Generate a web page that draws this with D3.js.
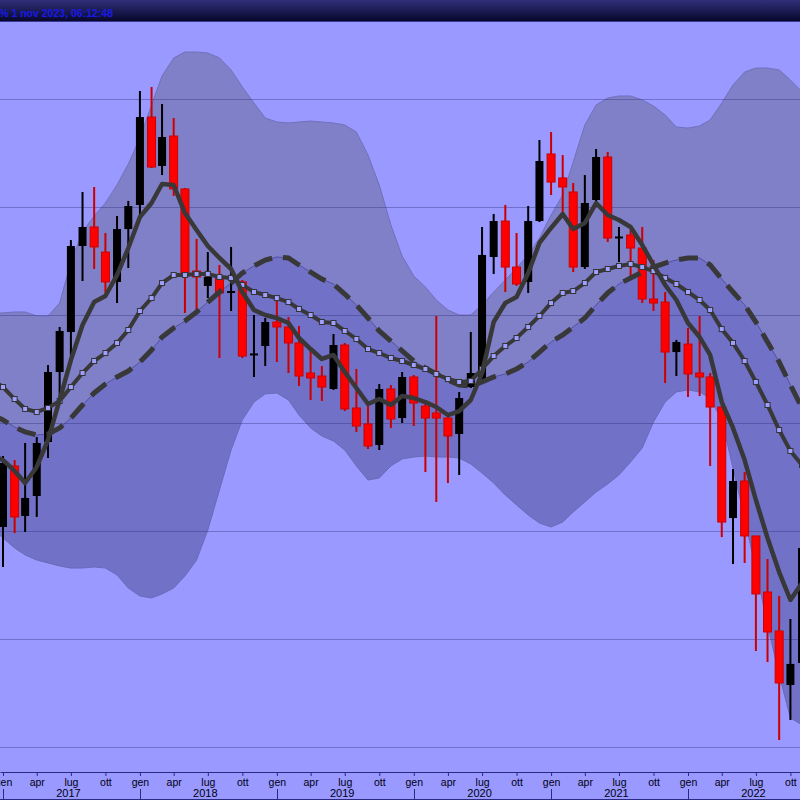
<!DOCTYPE html>
<html><head><meta charset="utf-8">
<script src="https://cdn.jsdelivr.net/npm/d3@7"></script>
<style>html,body{margin:0;padding:0;background:#9999ff;overflow:hidden}svg{display:block}</style>
</head><body>
<svg id="c" width="800" height="800"></svg>
<script>
// ---- data (monthly, first month = Dec 2016) ----
const firstMonth = [2016, 11];
const monthNames = ["gen","feb","mar","apr","mag","giu","lug","ago","set","ott","nov","dic"];
const years = [2017, 2018, 2019, 2020, 2021, 2022];
const headerText = "% 1 nov 2023, 06:12:48";
const gridValues = [40, 50, 60, 70, 80, 90, 100];

const open = [66.20,
 60.37, 66.02, 61.39, 63.24, 68.24, 74.72, 78.43, 86.39, 88.15, 85.83,
 83.06, 87.96, 90.19, 98.33, 93.80, 96.57, 91.67, 84.07, 82.69, 83.52,
 82.13, 83.06, 76.34, 77.13, 79.35, 78.89, 77.41, 74.63, 74.35, 73.15,
 77.22, 71.39, 69.91, 67.96, 73.15, 70.46, 74.26, 71.57, 70.93, 70.46,
 68.98, 73.33, 73.70, 85.37, 88.70, 84.44, 83.06, 88.70, 94.91, 92.69,
 91.39, 84.44, 90.65, 94.63, 87.18, 87.41, 86.20, 81.48, 81.20, 76.57,
 77.31, 74.63, 74.26, 71.48, 61.20, 64.63, 59.54, 54.35, 50.74, 45.74,
 47.78];
const high = [67.40,
 66.94, 66.57, 68.15, 68.70, 75.37, 78.89, 86.94, 91.39, 91.85, 87.59,
 89.17, 90.56, 100.74, 101.11, 99.54, 98.24, 91.76, 87.04, 85.83, 84.63,
 86.30, 83.24, 80.00, 79.72, 81.39, 79.81, 78.98, 76.76, 75.28, 78.24,
 77.41, 75.00, 71.67, 73.61, 73.52, 74.72, 74.44, 71.85, 79.91, 70.56,
 72.87, 78.43, 88.15, 89.35, 90.19, 87.59, 90.09, 96.20, 96.94, 94.81,
 92.22, 92.96, 95.37, 95.09, 88.15, 87.87, 88.15, 85.09, 82.13, 77.69,
 78.80, 79.91, 74.63, 71.67, 65.74, 65.46, 59.54, 57.41, 53.98, 51.85,
 59.17];
const low = [58.90,
 56.67, 59.81, 59.91, 61.30, 66.76, 72.31, 76.11, 83.15, 84.26, 82.04,
 81.11, 84.35, 89.26, 93.61, 92.96, 91.02, 80.19, 80.19, 81.57, 76.02,
 80.37, 76.02, 74.26, 75.28, 75.65, 74.63, 73.43, 72.13, 72.04, 73.06,
 71.11, 69.17, 67.59, 67.50, 69.54, 70.00, 69.72, 65.46, 62.69, 64.44,
 65.19, 73.24, 73.61, 83.80, 82.13, 82.69, 82.04, 88.61, 91.11, 89.44,
 83.98, 84.26, 90.46, 86.76, 84.91, 83.24, 81.11, 80.37, 73.70, 74.35,
 72.41, 72.50, 66.02, 59.44, 56.94, 57.04, 48.89, 47.87, 40.65, 42.50,
 47.59];
const close = [60.40,
 66.30, 61.30, 63.06, 68.15, 74.72, 78.52, 86.39, 88.15, 86.30, 83.06,
 87.96, 90.09, 98.33, 93.70, 96.48, 91.67, 83.89, 83.52, 83.52, 82.04,
 82.22, 76.20, 76.44, 79.35, 78.89, 77.41, 74.35, 74.17, 73.33, 77.22,
 71.30, 69.72, 67.87, 73.15, 70.37, 74.26, 71.85, 70.46, 70.46, 68.80,
 72.31, 74.63, 85.56, 88.70, 84.44, 82.87, 88.70, 94.26, 92.31, 91.85,
 84.44, 90.37, 94.63, 87.13, 87.27, 86.20, 81.48, 81.11, 76.57, 77.50,
 74.54, 74.26, 71.48, 60.83, 64.63, 59.54, 54.17, 50.65, 45.93, 47.69,
 58.43];

const maFast = [67.04,
 66.57, 65.56, 64.44, 65.93, 68.43, 72.13, 75.83, 79.07, 81.20, 81.76,
 83.70, 86.20, 89.07, 90.37, 92.13, 92.04, 89.44, 87.87, 86.39, 85.28,
 84.26, 82.13, 80.46, 80.00, 79.72, 79.26, 77.87, 76.85, 75.93, 76.30,
 74.72, 73.24, 71.76, 72.22, 71.67, 72.50, 72.31, 71.94, 71.48, 70.74,
 71.11, 72.13, 74.63, 79.35, 81.11, 81.67, 83.89, 86.67, 88.06, 89.35,
 87.96, 88.52, 90.37, 89.26, 88.80, 88.15, 86.48, 84.63, 82.78, 81.39,
 79.26, 77.96, 76.30, 71.94, 69.54, 66.57, 62.87, 59.35, 56.20, 53.61,
 55.19];
const maMid = [74.07,
 73.33, 72.22, 71.30, 71.02, 71.39, 72.04, 73.33, 74.63, 75.74, 76.48,
 77.41, 78.61, 80.37, 81.57, 82.96, 83.70, 83.70, 83.80, 83.80, 83.52,
 83.43, 82.78, 82.13, 81.85, 81.57, 81.20, 80.56, 80.00, 79.35, 79.26,
 78.52, 77.78, 76.85, 76.48, 76.02, 75.74, 75.37, 75.00, 74.54, 74.07,
 73.80, 73.89, 75.00, 76.20, 77.13, 77.87, 78.89, 79.91, 81.11, 82.04,
 82.22, 82.96, 83.98, 84.26, 84.54, 84.72, 84.44, 84.07, 83.43, 82.87,
 82.13, 81.39, 80.46, 78.70, 77.41, 75.74, 73.80, 71.67, 69.35, 67.41,
 66.11];
const maSlow = [70.83,
 70.28, 69.63, 69.17, 68.89, 68.98, 69.54, 70.46, 71.67, 72.78, 73.61,
 74.26, 74.81, 75.65, 76.76, 77.96, 78.80, 79.44, 80.28, 81.20, 82.13,
 82.96, 83.89, 84.54, 85.09, 85.37, 85.28, 84.63, 83.98, 83.33, 82.87,
 81.94, 80.93, 79.72, 78.52, 77.59, 76.67, 75.74, 75.09, 74.54, 73.98,
 73.52, 73.43, 73.80, 74.26, 74.54, 75.00, 75.65, 76.57, 77.50, 78.15,
 78.89, 79.72, 80.93, 82.04, 82.87, 83.43, 83.98, 84.44, 84.81, 85.09,
 85.28, 85.28, 84.63, 83.33, 82.13, 80.93, 79.35, 77.50, 75.65, 73.52,
 71.39];
const bandUpper = [80.19,
 80.19, 80.28, 80.28, 79.91, 79.91, 81.11, 84.91, 87.69, 89.17, 90.37,
 92.04, 93.98, 96.39, 99.44, 102.13, 103.80, 104.35, 104.35, 104.26, 103.80,
 102.69, 101.11, 99.63, 98.24, 97.87, 97.78, 97.87, 97.96, 97.87, 97.78,
 97.59, 96.94, 94.81, 92.04, 88.33, 85.46, 83.61, 82.59, 81.39, 80.46,
 80.00, 80.00, 80.93, 82.13, 83.24, 84.35, 85.56, 87.13, 89.26, 91.11,
 94.17, 97.59, 99.44, 100.09, 100.28, 100.28, 99.91, 99.35, 98.52, 97.41,
 97.31, 97.50, 98.06, 99.63, 101.30, 102.50, 102.87, 102.87, 102.69, 101.76,
 100.65];
const bandLower = [60.28,
 59.35, 58.43, 57.78, 57.31, 57.04, 56.76, 56.57, 56.57, 56.67, 56.57,
 55.93, 54.72, 53.98, 53.80, 54.17, 54.72, 55.83, 57.31, 60.09, 63.80,
 67.50, 70.28, 71.94, 72.69, 72.78, 72.13, 70.74, 69.54, 68.80, 68.33,
 67.50, 66.02, 64.72, 64.91, 66.02, 66.67, 66.85, 66.94, 66.85, 66.85,
 66.76, 66.20, 65.37, 64.44, 63.33, 62.41, 61.48, 60.74, 60.37, 60.83,
 61.76, 62.69, 63.61, 64.35, 65.19, 66.39, 67.69, 70.09, 71.94, 72.87,
 73.06, 72.87, 72.31, 70.28, 65.83, 61.20, 56.39, 51.30, 46.67, 42.69,
 42.04];

// ---- layout ----
const W = 800, H = 800, plotTop = 22, axisY = 772;
const dates = open.map((_, i) => new Date(firstMonth[0], firstMonth[1] + i, 1));
const x = d3.scaleTime().domain([new Date(2017, 0, 1), new Date(2022, 0, 1)]).range([3, 688]);
const y = d3.scaleLinear().domain([40, 100]).range([747, 99]);

const svg = d3.select("#c");
const defs = svg.append("defs");
const grad = defs.append("linearGradient").attr("id", "hdr").attr("x1", 0).attr("y1", 0).attr("x2", 0).attr("y2", 1);
grad.append("stop").attr("offset", "0%").attr("stop-color", "#30307a");
grad.append("stop").attr("offset", "100%").attr("stop-color", "#07072c");
defs.append("clipPath").attr("id", "plotclip").append("rect")
  .attr("x", 0).attr("y", plotTop).attr("width", W).attr("height", axisY - plotTop);

svg.append("rect").attr("width", W).attr("height", H).attr("fill", "#9999ff");

const plot = svg.append("g").attr("clip-path", "url(#plotclip)");
const idx = d3.range(dates.length);
const X = i => x(dates[i]);

// bands
plot.append("path").datum(idx)
  .attr("d", d3.area().x(X).y0(i => y(maSlow[i])).y1(i => y(bandUpper[i])))
  .attr("fill", "#8080c8");
plot.append("path").datum(idx)
  .attr("d", d3.area().x(X).y0(i => y(bandLower[i])).y1(i => y(maSlow[i])))
  .attr("fill", "#7171c8");
[[bandUpper, "#7070bc"], [bandLower, "#6a6ab8"], [maSlow, "#50509c"]].forEach(([arr, col]) => {
  plot.append("path").datum(idx)
    .attr("d", d3.line().x(X).y(i => y(arr[i])))
    .attr("fill", "none").attr("stroke", col).attr("stroke-width", 1);
});

// grid
plot.selectAll("line.grid").data(gridValues).join("line").attr("class", "grid")
  .attr("x1", 0).attr("x2", W)
  .attr("y1", d => Math.round(y(d)) + 0.5).attr("y2", d => Math.round(y(d)) + 0.5)
  .attr("stroke", "rgba(45,45,120,0.38)").attr("stroke-width", 1);

// candles
const up = i => close[i] >= open[i];
const cg = plot.append("g");
cg.selectAll("rect.wick").data(idx).join("rect").attr("class", "wick")
  .attr("x", i => X(i) - 1).attr("width", 2)
  .attr("y", i => y(high[i])).attr("height", i => y(low[i]) - y(high[i]))
  .attr("fill", i => up(i) ? "#000000" : "#cc0000");
cg.selectAll("rect.body").data(idx).join("rect").attr("class", "body")
  .attr("x", i => X(i) - 4).attr("width", 8)
  .attr("y", i => y(Math.max(open[i], close[i])))
  .attr("height", i => Math.max(2, Math.abs(y(open[i]) - y(close[i]))))
  .attr("fill", i => up(i) ? "#000000" : "#ff0000")
  .attr("stroke", i => up(i) ? "none" : "#cc0000").attr("stroke-width", 1);

// moving averages
const lineCol = "#383838";
plot.append("path").datum(idx)
  .attr("d", d3.line().x(X).y(i => y(maSlow[i])))
  .attr("fill", "none").attr("stroke", lineCol).attr("stroke-width", 5)
  .attr("stroke-dasharray", "19,11");
plot.append("path").datum(idx)
  .attr("d", d3.line().x(X).y(i => y(maMid[i])))
  .attr("fill", "none").attr("stroke", lineCol).attr("stroke-width", 4);
plot.selectAll("rect.mk").data(idx).join("rect").attr("class", "mk")
  .attr("x", i => X(i) - 2.5).attr("y", i => y(maMid[i]) - 2.5)
  .attr("width", 5).attr("height", 5)
  .attr("fill", "#9f9fff").attr("stroke", "#333").attr("stroke-width", 1);
plot.append("path").datum(idx)
  .attr("d", d3.line().x(X).y(i => y(maFast[i])))
  .attr("fill", "none").attr("stroke", lineCol).attr("stroke-width", 4.5)
  .attr("stroke-linejoin", "round");

// header
svg.append("rect").attr("width", W).attr("height", 21).attr("fill", "url(#hdr)");
svg.append("line").attr("x1", 0).attr("x2", W).attr("y1", 21.5).attr("y2", 21.5)
  .attr("stroke", "#3a3a92").attr("stroke-width", 1);
svg.append("text").attr("x", 113).attr("y", 16.5).attr("text-anchor", "end")
  .attr("font-family", "Liberation Sans, Arial, sans-serif").attr("font-size", 10.5)
  .attr("font-weight", "bold").attr("fill", "#1a1ae6").text(headerText);

// x axis
const xa = x.copy().domain([x.invert(0), x.invert(W)]).range([0, W]);
const ax = svg.append("g").attr("transform", `translate(0,${axisY})`)
  .call(d3.axisBottom(xa).ticks(d3.timeMonth.every(3)).tickSize(4).tickSizeOuter(0)
    .tickPadding(2.5).tickFormat(d => monthNames[d.getMonth()]));
ax.select(".domain").attr("stroke", "#2a2a80");
ax.selectAll(".tick line").attr("stroke", "#2a2a80");
ax.selectAll(".tick text").attr("fill", "#000010")
  .attr("font-family", "Liberation Sans, Arial, sans-serif").attr("font-size", 10.5);

svg.selectAll("line.ysep").data(years).join("line").attr("class", "ysep")
  .attr("x1", d => Math.round(x(new Date(d, 0, 1))) + 0.5).attr("x2", d => Math.round(x(new Date(d, 0, 1))) + 0.5)
  .attr("y1", 789).attr("y2", 800).attr("stroke", "#2a2a80");
svg.selectAll("text.year").data(years).join("text").attr("class", "year")
  .attr("x", d => x(new Date(d, 6, 1)) - 2.5).attr("y", 797).attr("text-anchor", "middle")
  .attr("font-family", "Liberation Sans, Arial, sans-serif").attr("font-size", 11)
  .attr("fill", "#000010").text(d => d);
svg.append("line").attr("x1", 0).attr("x2", W).attr("y1", 799.5).attr("y2", 799.5)
  .attr("stroke", "#2a2a80");
</script>
</body></html>
